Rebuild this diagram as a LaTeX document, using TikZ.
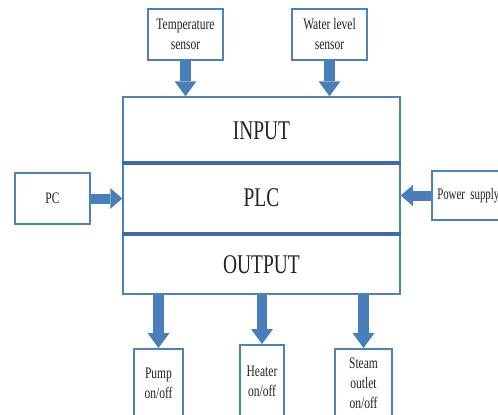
\documentclass[tikz,border=0pt]{standalone}
\usepackage{fontspec}
\setmainfont{Liberation Serif}
\newfontfamily\condfont[FakeStretch=0.72]{Liberation Serif}
\newfontfamily\condfontb[FakeStretch=0.68]{Liberation Serif}
\usetikzlibrary{arrows.meta}
\definecolor{arrowblue}{RGB}{74,126,187}
\definecolor{boxblue}{RGB}{79,129,189}
\definecolor{sepblue}{RGB}{62,106,168}
\definecolor{txt}{RGB}{34,34,34}
\begin{document}
\begin{tikzpicture}[x=1pt,y=-1pt,
  smallbox/.style={draw=boxblue, line width=1.5pt, fill=white, inner sep=0pt, align=center,
    text=txt, font=\condfont\fontsize{16}{20}\selectfont},
  mainbox/.style={draw=boxblue, line width=1.5pt, inner sep=0pt},
  bigtext/.style={text=txt, font=\condfont\fontsize{27}{30}\selectfont, inner sep=0pt},
  sepline/.style={draw=sepblue, line width=4pt},
  vblock/.style={draw=arrowblue, line width=10.5pt, -{Triangle[length=15pt,width=22pt,line width=0pt]}},
  hblock/.style={draw=arrowblue, line width=10pt, -{Triangle[length=12pt,width=21pt,line width=0pt]}}
]
\useasboundingbox (0,0) rectangle (498,415);

% main PLC box
\node[mainbox, minimum width=277pt, minimum height=197pt] (main) at (261.5,195.5) {};
\coordinate (s1) at (0,163);
\coordinate (s2) at (0,234);
\draw[sepline] (main.west |- s1) -- (main.east |- s1);
\draw[sepline] (main.west |- s2) -- (main.east |- s2);
\node[bigtext] (input) at (261.5,131) {INPUT};
\node[bigtext] (plc) at (261.5,198) {PLC};
\node[bigtext] (output) at (261.5,265) {OUTPUT};

% sensors
\node[smallbox, minimum width=75pt, minimum height=51pt] (temp) at (185.5,34.5) {Temperature\\sensor};
\node[smallbox, minimum width=75pt, minimum height=51pt] (water) at (329.5,34.5) {Water level\\sensor};

% side boxes
\node[smallbox, minimum width=75pt, minimum height=51pt] (pc) at (52.5,198.5) {PC};
\node[smallbox, minimum height=49pt, anchor=west, align=left, inner xsep=5.5pt, text width=62pt,
  font=\condfontb\fontsize{16}{20}\selectfont] (power) at (431,195.5) {\mbox{Power supply}};

% output boxes
\node[smallbox, minimum width=49pt, minimum height=70pt, anchor=north] (pump) at (158.5,348) {Pump\\on/off};
\node[smallbox, minimum width=44pt, minimum height=74pt, anchor=north] (heater) at (262,344) {Heater\\on/off};
\node[smallbox, minimum width=57pt, minimum height=70pt, anchor=north] (steam) at (363.5,348) {Steam\\outlet\\on/off};

% arrows
\draw[vblock] (temp.south) -- (temp.south |- main.north);
\draw[vblock] (water.south) -- (water.south |- main.north);
\draw[hblock] (pc.east) -- (pc.east -| main.west);
\draw[hblock] (power.west) -- (power.west -| main.east);
\draw[vblock] (pump.north |- main.south) -- (pump.north);
\draw[vblock] (heater.north |- main.south) -- (heater.north);
\draw[vblock] (steam.north |- main.south) -- (steam.north);
\end{tikzpicture}
\end{document}
